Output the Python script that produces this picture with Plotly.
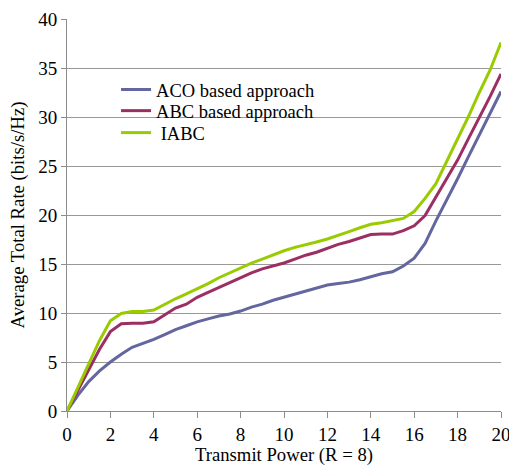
import plotly.graph_objects as go

x_power = [0, 0.5, 1, 1.5, 2, 2.5, 3, 3.5, 4, 4.5, 5, 5.5, 6, 6.5, 7, 7.5, 8, 8.5, 9, 9.5,
           10, 10.5, 11, 11.5, 12, 12.5, 13, 13.5, 14, 14.5, 15, 15.5, 16, 16.5, 17, 17.5,
           18, 18.5, 19, 19.5, 20]

aco = [0, 1.6, 3.0, 4.1, 5.0, 5.8, 6.5, 6.9, 7.3, 7.8, 8.3, 8.7, 9.1, 9.4, 9.7, 9.9, 10.2,
       10.6, 10.9, 11.3, 11.6, 11.9, 12.2, 12.5, 12.85, 13.0, 13.15, 13.4, 13.7, 14.0, 14.2,
       14.8, 15.6, 17.1, 19.4, 21.5, 23.7, 25.95, 28.2, 30.4, 32.6]

abc = [0, 2.1, 4.2, 6.3, 8.1, 8.9, 8.95, 8.95, 9.1, 9.8, 10.5, 10.9, 11.6, 12.1, 12.6, 13.1,
       13.6, 14.1, 14.5, 14.8, 15.1, 15.5, 15.9, 16.2, 16.6, 17.0, 17.3, 17.65, 18.0, 18.05,
       18.05, 18.4, 18.9, 19.95, 21.8, 23.75, 25.6, 27.8, 29.9, 32.1, 34.4]

iabc = [0, 2.4, 4.8, 7.2, 9.2, 9.95, 10.15, 10.15, 10.3, 10.9, 11.45, 11.95, 12.45, 13.0,
        13.6, 14.1, 14.6, 15.1, 15.5, 15.95, 16.35, 16.7, 16.95, 17.25, 17.55, 17.9, 18.3,
        18.7, 19.05, 19.2, 19.4, 19.65, 20.35, 21.7, 23.2, 25.45, 27.75, 30.05, 32.5, 34.8, 37.6]

series_names = ["ACO based approach", "ABC based approach", " IABC"]
series_colors = ["#63669f", "#9b2f63", "#99cc00"]

x_ticks = [0, 2, 4, 6, 8, 10, 12, 14, 16, 18, 20]
y_ticks = [0, 5, 10, 15, 20, 25, 30, 35, 40]

font_family = "Liberation Serif"

legend_ids = ["legend", "legend2", "legend3"]
legend_ys = [0.819, 0.765, 0.709]

fig = go.Figure()
for name, vals, col, lg in zip(series_names, [aco, abc, iabc], series_colors, legend_ids):
    fig.add_trace(go.Scatter(x=x_power, y=vals, mode="lines", name=name, legend=lg,
                             line=dict(color=col, width=3)))

layout_legends = {}
for lg, ly in zip(legend_ids, legend_ys):
    layout_legends[lg] = dict(x=0.113, y=ly, xanchor="left", yanchor="middle",
                              bgcolor="rgba(0,0,0,0)",
                              font=dict(size=18.5, family=font_family, color="#000000"))

fig.update_layout(
    template="none",
    width=509, height=466,
    margin=dict(l=67, r=8, t=19, b=55, pad=0),
    paper_bgcolor="white", plot_bgcolor="white",
    font=dict(family=font_family, color="#000000", size=17),
    showlegend=True,
    **layout_legends,
)
fig.update_xaxes(range=[0, 20], tickvals=x_ticks, showgrid=False, automargin=False,
                 showline=True, linecolor="#8c8c8c", linewidth=1,
                 ticks="outside", ticklen=6, tickcolor="#8c8c8c",
                 zeroline=False, ticklabeloverflow="allow",
                 title=dict(text="Transmit Power (R = 8)", font=dict(size=18.7), standoff=2),
                 tickfont=dict(size=19))
fig.update_yaxes(range=[0, 40], tickvals=y_ticks, showgrid=True, gridcolor="#999999",
                 gridwidth=1, showline=True, linecolor="#8c8c8c", linewidth=1,
                 automargin=False,
                 ticks="outside", ticklen=5, tickcolor="#8c8c8c",
                 zeroline=False,
                 title=dict(text="Average Total Rate (bits/s/Hz)", font=dict(size=18.7), standoff=8),
                 tickfont=dict(size=19))

fig.write_html("out.html", config={"displayModeBar": False},
               post_script="document.body.style.margin='0';")
